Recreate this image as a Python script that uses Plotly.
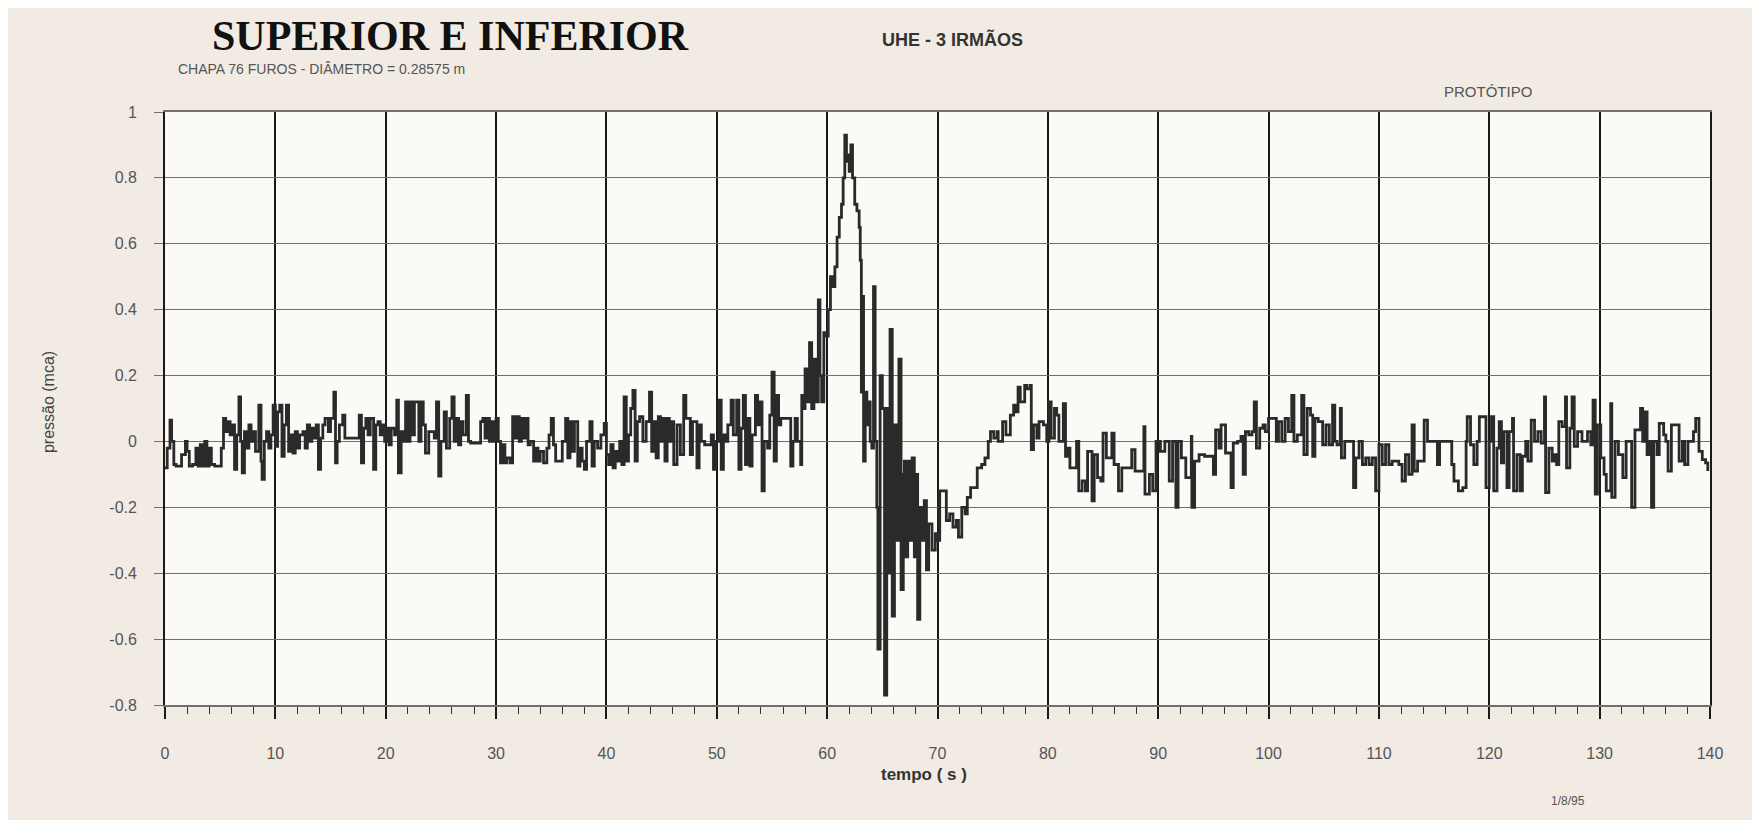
import plotly.graph_objects as go

# ---- data (time in s, pressure in mca) ----
t_0_26 = [0.0, 0.2, 0.45, 0.6, 0.8, 1.0, 1.3, 1.5, 1.85, 2.0, 2.2, 2.5, 2.8, 3.0, 3.2, 3.4, 3.6, 3.8, 4.0, 4.2, 4.5, 4.9,
          5.1, 5.3, 5.5, 5.7, 5.9, 6.1, 6.3, 6.5, 6.7, 6.85, 7.0, 7.2, 7.4, 7.6, 7.8, 8.0, 8.2, 8.5, 8.7, 8.8, 9.0, 9.2,
          9.4, 9.6, 9.8, 10.0, 10.2, 10.4, 10.6, 10.8, 11.0, 11.2, 11.4, 11.6, 11.8, 12.0, 12.2, 12.5, 12.7, 12.9, 13.1,
          13.3, 13.5, 13.7, 13.9, 14.1, 14.3, 14.5, 14.8, 15.0, 15.3, 15.45, 15.6, 15.8, 16.1, 16.3, 16.6, 17.2, 17.4,
          17.6, 17.8, 18.0, 18.2, 18.4, 18.6, 18.9, 19.1, 19.3, 19.5, 19.7, 19.9, 20.1, 20.3, 20.5, 20.8, 21.0, 21.15,
          21.4, 21.6, 21.8, 22.0, 22.2, 22.4, 22.6, 22.8, 23.0, 23.2, 23.4, 23.6, 23.9, 24.2, 24.4, 24.6, 24.8, 25.0,
          25.3, 25.5, 25.8]
p_0_26 = [-0.08, -0.02, 0.065, 0.0, -0.07, -0.075, -0.075, -0.04, 0.0, -0.03, -0.075, -0.07, -0.02, -0.075, -0.01,
          -0.075, 0.0, -0.075, -0.02, -0.07, -0.075, -0.075, -0.02, 0.07, 0.03, 0.06, 0.02, 0.05, -0.085, 0.02, 0.135,
          0.0, -0.095, 0.03, -0.02, 0.05, 0.0, 0.03, -0.03, 0.11, -0.06, -0.115, 0.0, 0.03, -0.02, 0.02, 0.11, -0.015,
          0.09, 0.11, -0.045, 0.05, 0.11, -0.03, 0.02, -0.035, 0.03, -0.02, 0.02, 0.03, -0.02, 0.05, 0.0, 0.04, 0.01,
          0.05, -0.085, 0.01, 0.05, 0.07, 0.03, 0.07, 0.15, -0.065, 0.0, 0.05, 0.08, 0.01, 0.01, 0.01, 0.01, 0.08,
          -0.065, 0.04, 0.07, 0.02, 0.07, -0.085, 0.05, 0.06, 0.02, 0.05, 0.0, 0.04, -0.01, 0.04, 0.02, 0.125, -0.095,
          0.03, 0.0, 0.12, 0.0, 0.12, 0.02, 0.12, 0.12, 0.0, 0.12, 0.05, -0.035, 0.03, 0.03, 0.01, 0.12, -0.105, 0.0,
          0.09, -0.02, 0.07]

t_26_52 = [26.0, 26.2, 26.4, 26.6, 26.8, 27.0, 27.3, 27.5, 27.7, 28.4, 28.6, 28.8, 29.0, 29.2, 29.4, 29.6, 29.8, 30.0,
           30.2, 30.4, 30.6, 30.8, 31.0, 31.3, 31.5, 31.7, 31.9, 32.1, 32.3, 32.5, 32.7, 32.9, 33.1, 33.4, 33.6, 33.8,
           34.0, 34.3, 34.6, 34.8, 35.0, 35.2, 35.4, 35.7, 36.0, 36.3, 36.5, 36.7, 36.9, 37.1, 37.4, 37.6, 37.8, 38.0,
           38.2, 38.5, 38.7, 38.9, 39.2, 39.5, 39.8, 40.0, 40.2, 40.4, 40.6, 40.8, 41.0, 41.2, 41.4, 41.6, 41.8, 42.0,
           42.2, 42.4, 42.6, 42.8, 43.0, 43.3, 43.6, 43.9, 44.1, 44.3, 44.5, 44.7, 44.9, 45.1, 45.3, 45.5, 45.7, 45.9,
           46.1, 46.4, 46.7, 47.0, 47.2, 47.4, 47.6, 47.8, 48.0, 48.2, 48.4, 48.6, 48.9, 49.2, 49.5, 49.7, 49.9, 50.2,
           50.4, 50.6, 50.8, 51.0, 51.3, 51.5, 51.8]
p_26_52 = [0.135, 0.0, 0.07, -0.01, 0.06, 0.02, 0.14, 0.0, -0.005, -0.005, 0.06, 0.07, 0.01, 0.07, 0.0, 0.06, 0.0,
           0.07, 0.0, -0.065, -0.01, -0.065, -0.05, -0.065, 0.075, 0.01, 0.075, 0.0, 0.07, 0.01, 0.07, -0.01, 0.0,
           -0.06, -0.02, -0.06, -0.03, -0.065, -0.02, 0.02, 0.07, -0.01, -0.06, -0.06, 0.0, 0.07, -0.05, 0.06, -0.03,
           0.06, -0.075, -0.02, -0.06, -0.085, 0.0, 0.06, -0.075, 0.0, -0.02, 0.02, 0.055, -0.04, -0.07, -0.01, -0.08,
           -0.03, -0.06, 0.0, -0.07, 0.135, -0.06, 0.02, 0.1, 0.155, -0.06, 0.06, 0.075, 0.0, 0.06, 0.15, -0.03, 0.06,
           -0.05, 0.075, 0.0, 0.07, -0.06, 0.07, 0.0, 0.06, -0.07, 0.05, -0.04, 0.14, 0.07, 0.07, -0.04, 0.06, 0.06,
           -0.08, 0.05, 0.0, -0.01, -0.01, 0.02, -0.085, 0.0, 0.125, -0.085, 0.02, 0.0, 0.05, 0.125, 0.02, 0.125]

t_52_75 = [52.0, 52.2, 52.4, 52.6, 52.8, 53.0, 53.2, 53.5, 53.7, 53.9, 54.1, 54.3, 54.6, 54.8, 55.0, 55.2, 55.4, 55.6,
           55.8, 56.1, 56.4, 56.7, 56.9, 57.1, 57.3, 57.6, 57.7, 57.9, 58.0, 58.2, 58.4, 58.6, 58.8, 59.0, 59.2, 59.35,
           59.5, 59.7, 59.9, 60.1, 60.3, 60.5, 60.7, 60.9, 61.1, 61.3, 61.45, 61.6, 61.75, 61.9, 62.0, 62.15, 62.3, 62.5,
           62.7, 62.9, 63.0, 63.1, 63.2, 63.3, 63.45, 63.6, 63.8, 63.9, 64.05, 64.2, 64.35, 64.5, 64.6, 64.8, 65.0,
           65.2, 65.4, 65.5, 65.7, 65.9, 66.1, 66.3, 66.5, 66.7, 66.9, 67.0, 67.1, 67.3, 67.5, 67.7, 67.9, 68.0, 68.2,
           68.4, 68.6, 68.8, 69.0, 69.2, 69.5, 69.8, 70.0, 70.2, 70.5, 70.8, 71.1, 71.4, 71.7, 71.9, 72.2, 72.5, 72.7,
           73.0, 73.4, 73.6, 74.0, 74.3, 74.6, 74.8]
p_52_75 = [-0.085, 0.04, 0.14, -0.07, 0.07, -0.075, 0.02, 0.14, 0.05, 0.12, -0.15, 0.0, -0.02, 0.08, 0.21, -0.06, 0.14,
           0.05, 0.07, 0.07, 0.07, -0.075, 0.0, 0.07, 0.0, -0.07, 0.14, 0.1, 0.22, 0.12, 0.3, 0.1, 0.25, 0.12, 0.43, 0.2,
           0.12, 0.33, 0.32, 0.4, 0.5, 0.47, 0.53, 0.62, 0.68, 0.72, 0.8, 0.93, 0.85, 0.87, 0.82, 0.9, 0.8, 0.72, 0.7,
           0.65, 0.55, 0.15, 0.44, -0.06, 0.15, 0.05, 0.12, 0.0, -0.02, 0.47, 0.0, -0.2, -0.63, 0.2, 0.1, -0.77, 0.1,
           -0.4, 0.34, -0.53, 0.05, -0.3, 0.25, -0.45, -0.1, -0.06, -0.35, -0.06, -0.3, -0.05, -0.35, -0.1, -0.54,
           -0.2, -0.3, -0.18, -0.39, -0.25, -0.33, -0.28, -0.3, -0.15, -0.15, -0.24, -0.22, -0.26, -0.24, -0.29, -0.2,
           -0.22, -0.17, -0.14, -0.14, -0.08, -0.07, -0.05, 0.0, 0.03]

t_75_100 = [75.1, 75.4, 75.5, 75.9, 76.2, 76.6, 76.9, 77.1, 77.3, 77.5, 77.9, 78.1, 78.4, 78.5, 78.7, 79.0, 79.2, 79.6,
            79.9, 80.1, 80.3, 80.6, 80.8, 81.0, 81.4, 81.6, 81.8, 82.0, 82.5, 82.6, 82.8, 83.1, 83.4, 83.6, 84.0, 84.2,
            84.5, 84.8, 85.0, 85.3, 85.8, 86.0, 86.4, 86.7, 87.3, 87.6, 87.9, 88.2, 88.7, 88.8, 89.2, 89.5, 89.8, 90.2,
            90.6, 91.0, 91.3, 91.6, 91.8, 92.1, 92.5, 93.0, 93.05, 93.3, 93.7, 94.2, 94.8, 95.0, 95.2, 95.5, 95.7, 96.1,
            96.6, 96.8, 97.2, 97.5, 97.7, 97.9, 98.2, 98.5, 98.7, 98.9, 99.2, 99.5, 99.7]
p_75_100 = [0.01, 0.03, 0.0, 0.06, 0.02, 0.08, 0.11, 0.09, 0.165, 0.12, 0.17, 0.16, 0.17, -0.025, 0.05, 0.01, 0.06,
            0.05, 0.0, 0.12, 0.01, 0.1, 0.08, 0.0, 0.115, -0.045, -0.02, -0.08, -0.08, 0.0, -0.15, -0.12, -0.15, -0.03,
            -0.18, -0.04, -0.11, -0.12, 0.025, -0.05, 0.025, -0.07, -0.15, -0.08, -0.08, -0.025, -0.09, -0.09, 0.045,
            -0.16, -0.1, -0.15, 0.0, -0.03, 0.0, -0.12, 0.0, -0.2, 0.0, -0.05, -0.11, 0.015, -0.2, -0.06, -0.04, -0.045,
            -0.045, -0.1, 0.035, -0.02, 0.05, -0.035, -0.14, -0.005, 0.0, 0.015, -0.1, 0.03, 0.02, 0.03, 0.12, -0.02,
            0.04, 0.05, 0.03]

t_100_120 = [100.0, 100.3, 100.5, 100.7, 100.9, 101.2, 101.5, 101.8, 102.1, 102.3, 102.6, 103.0, 103.2, 103.5, 103.8,
             104.0, 104.2, 104.5, 104.7, 104.9, 105.2, 105.5, 105.8, 106.0, 106.2, 106.5, 106.6, 106.9, 107.6, 107.7,
             107.9, 108.2, 108.5, 108.8, 109.1, 109.4, 109.7, 110.0, 110.3, 110.6, 110.9, 111.2, 111.8, 112.1, 112.4,
             112.7, 113.0, 113.2, 113.5, 114.1, 114.4, 115.2, 115.3, 115.5, 116.4, 116.6, 116.8, 117.2, 117.6, 117.9,
             118.0, 118.3, 118.6, 118.9, 119.1, 119.5, 119.7]
p_100_120 = [0.07, 0.07, 0.07, 0.0, 0.06, 0.0, 0.07, 0.03, 0.14, 0.0, 0.02, 0.14, -0.04, 0.1, 0.08, -0.045, 0.07, 0.06,
             0.06, -0.01, 0.05, -0.01, 0.11, 0.0, -0.01, 0.1, -0.05, 0.0, 0.0, -0.14, -0.05, 0.0, -0.07, -0.05, -0.07,
             -0.05, -0.15, -0.01, -0.07, -0.01, -0.07, -0.06, -0.07, -0.12, -0.04, -0.1, 0.05, -0.09, -0.06, 0.065, 0.0,
             0.0, -0.07, 0.0, 0.0, -0.07, -0.12, -0.15, -0.14, 0.0, 0.075, -0.01, -0.07, 0.0, 0.075, 0.075, -0.14]

t_120_140 = [120.0, 120.2, 120.4, 120.7, 120.9, 121.1, 121.3, 121.6, 121.8, 122.1, 122.2, 122.5, 122.8, 123.0, 123.3,
             123.5, 123.8, 124.1, 124.4, 124.7, 125.0, 125.1, 125.4, 125.7, 125.9, 126.1, 126.3, 126.6, 126.9, 127.0,
             127.3, 127.5, 127.7, 128.0, 128.4, 128.7, 128.9, 129.2, 129.4, 129.6, 129.8, 130.1, 130.4, 130.6, 131.0,
             131.1, 131.4, 131.7, 132.1, 132.4, 132.7, 132.9, 133.2, 133.5, 133.7, 133.9, 134.1, 134.3, 134.5, 134.7,
             134.9, 135.2, 135.4, 135.8, 136.0, 136.2, 136.5, 136.9, 137.2, 137.5, 137.7, 138.0, 138.2, 138.5, 138.7,
             139.0, 139.3, 139.6, 139.8]
p_120_140 = [0.0, 0.075, -0.15, -0.02, 0.06, -0.065, 0.03, -0.14, 0.03, 0.07, -0.15, -0.04, -0.15, -0.045, 0.0, -0.06,
             0.065, 0.0, 0.03, -0.005, 0.135, -0.155, -0.02, -0.06, -0.04, -0.07, 0.06, 0.045, 0.135, -0.08, 0.04,
             0.135, -0.015, 0.03, 0.0, 0.0, 0.03, -0.01, 0.125, -0.16, 0.05, -0.05, -0.1, -0.15, 0.115, -0.17, 0.0,
             -0.04, -0.11, 0.0, 0.0, -0.2, 0.035, 0.035, 0.1, 0.0, 0.09, -0.04, 0.0, -0.2, 0.0, -0.04, 0.055, 0.02, 0.0,
             -0.09, 0.05, 0.05, -0.06, 0.0, -0.07, 0.0, 0.0, 0.03, 0.07, -0.03, -0.055, -0.065, -0.09]

tempo = t_0_26 + t_26_52 + t_52_75 + t_75_100 + t_100_120 + t_120_140
pressao = p_0_26 + p_26_52 + p_52_75 + p_75_100 + p_100_120 + p_120_140

x_ticks = [0, 10, 20, 30, 40, 50, 60, 70, 80, 90, 100, 110, 120, 130, 140]
y_ticks = [-0.8, -0.6, -0.4, -0.2, 0, 0.2, 0.4, 0.6, 0.8, 1]
y_tick_text = ["-0.8", "-0.6", "-0.4", "-0.2", "0", "0.2", "0.4", "0.6", "0.8", "1"]

FONT = "Liberation Sans, Arial, sans-serif"

fig = go.Figure()
fig.add_trace(go.Scatter(x=tempo, y=pressao, mode="lines",
                         line=dict(color="#2a2a2a", width=2.8, shape="hv"), showlegend=False,
                         hoverinfo="x+y"))

fig.update_layout(
    width=1760, height=820,
    margin=dict(l=157, r=58, t=104, b=123),
    paper_bgcolor="#f1ebe3",
    plot_bgcolor="#fbfaf7",
    font=dict(family=FONT, color="#444444"),
    showlegend=False,
)

fig.update_xaxes(
    range=[0, 140], tickvals=x_ticks, ticktext=[str(v) for v in x_ticks],
    showgrid=True, gridcolor="#1a1a1a", gridwidth=1.7,
    zeroline=False,
    showline=True, linecolor="#707070", linewidth=1.6, mirror=True,
    ticks="outside", ticklen=12, tickwidth=1.7, tickcolor="#1a1a1a",
    ticklabelstandoff=21,
    tickfont=dict(size=16, color="#555555", family=FONT),
    minor=dict(dtick=2, ticks="outside", ticklen=7, tickwidth=1.2, tickcolor="#333333", showgrid=False),
)
fig.update_yaxes(
    range=[-0.8, 1], tickvals=y_ticks, ticktext=y_tick_text,
    showgrid=True, gridcolor="#707070", gridwidth=1.4,
    zeroline=False,
    showline=True, linecolor="#1a1a1a", linewidth=1.8, mirror=True,
    ticks="outside", ticklen=9, tickwidth=1.4, tickcolor="#707070",
    ticklabelstandoff=14,
    tickfont=dict(size=16, color="#555555", family=FONT),
)

annotations = [
    dict(text="<b>SUPERIOR E INFERIOR</b>", x=0.185, y=1.128, xref="paper", yref="paper",
         xanchor="center", yanchor="middle", showarrow=False,
         font=dict(family="Liberation Serif, Times New Roman, serif", size=42, color="#111111")),
    dict(text="<b>UHE - 3 IRMÃOS</b>", x=0.5094, y=1.1231, xref="paper", yref="paper",
         xanchor="center", yanchor="middle", showarrow=False,
         font=dict(family=FONT, size=18, color="#333333")),
    dict(text="CHAPA 76 FUROS - DIÂMETRO = 0.28575 m", x=0.0071, y=1.073, xref="paper", yref="paper",
         xanchor="left", yanchor="middle", showarrow=False,
         font=dict(family=FONT, size=14, color="#555555")),
    dict(text="PROTÓTIPO", x=0.856, y=1.0354, xref="paper", yref="paper",
         xanchor="center", yanchor="middle", showarrow=False,
         font=dict(family=FONT, size=15, color="#555555")),
    dict(text="<b>tempo ( s )</b>", x=0.491, y=-0.118, xref="paper", yref="paper",
         xanchor="center", yanchor="middle", showarrow=False,
         font=dict(family=FONT, size=17, color="#333333")),
    dict(text="pressão (mca)", x=-0.0754, y=0.51, xref="paper", yref="paper",
         xanchor="center", yanchor="middle", showarrow=False, textangle=-90,
         font=dict(family=FONT, size=16, color="#444444")),
    dict(text="1/8/95", x=0.908, y=-0.162, xref="paper", yref="paper",
         xanchor="center", yanchor="middle", showarrow=False,
         font=dict(family=FONT, size=12, color="#555555")),
]
fig.update_layout(annotations=annotations)

fig.write_html("out.html")
